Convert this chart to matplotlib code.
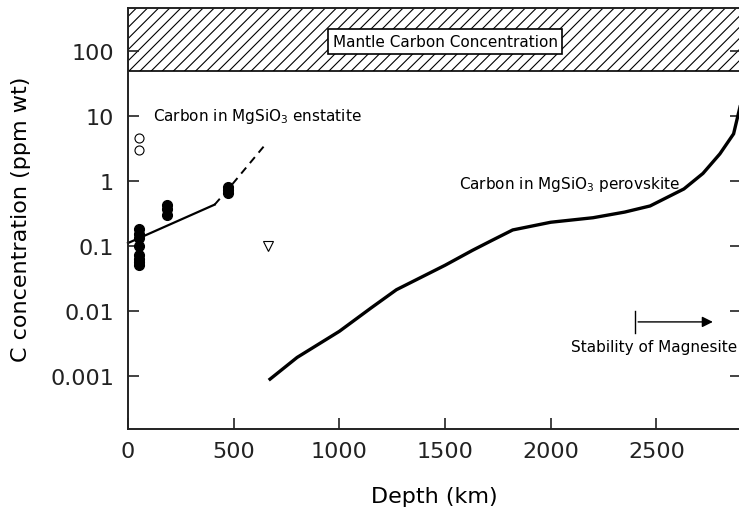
import matplotlib
matplotlib.use("Agg")
from matplotlib import pyplot as plt
from matplotlib.ticker import FixedLocator, FixedFormatter, NullLocator

# Enstatite experiments (depth km, C ppm wt)
depth_50 = [50, 50, 50, 50, 50, 50, 50, 50]
conc_50 = [0.18, 0.15, 0.13, 0.10, 0.072, 0.062, 0.056, 0.05]
depth_185 = [185, 185, 185]
conc_185 = [0.43, 0.37, 0.30]
depth_475 = [475, 475, 475]
conc_475 = [0.80, 0.72, 0.66]
open_depth = [50, 50]
open_conc = [4.5, 3.0]
tri_depth = [660]
tri_conc = [0.1]

# Enstatite trend lines
ens_solid_depth = [0, 410]
ens_solid_conc = [0.11, 0.43]
ens_dash_depth = [410, 475, 655]
ens_dash_conc = [0.43, 0.75, 3.8]

# Perovskite curve
pv_depth = [672, 800, 1000, 1150, 1270, 1500, 1630, 1720, 1820, 2000, 2200, 2350, 2470, 2630, 2720, 2800, 2865, 2900]
pv_conc = [0.00088, 0.0019, 0.0048, 0.011, 0.021, 0.05, 0.085, 0.12, 0.175, 0.23, 0.27, 0.33, 0.41, 0.75, 1.3, 2.6, 5.3, 16]

mantle_low = 50
yticks = [0.001, 0.01, 0.1, 1, 10, 100]
ytick_labels = ["0.001", "0.01", "0.1", "1", "10", "100"]
xticks = [0, 500, 1000, 1500, 2000, 2500]

plt.rcParams["font.family"] = "DejaVu Sans"
plt.rcParams["hatch.linewidth"] = 0.8

fig = plt.figure(figsize=(7.39, 5.10), dpi=100)
ax = fig.add_axes([128 / 739, 80 / 510, 613 / 739, 421 / 510])
ax.set_yscale("log")
ax.set_xlim(0, 2900)
ax.set_ylim(1.5e-4, 460)

# Mantle carbon band
ax.axhspan(mantle_low, 1000, facecolor="white", edgecolor="black", hatch="///", linewidth=1.2)
ax.text(1500, 140, "Mantle Carbon Concentration", ha="center", va="center", fontsize=11,
        bbox=dict(boxstyle="square,pad=0.3", facecolor="white", edgecolor="black", linewidth=1.2))

ax.plot(ens_solid_depth, ens_solid_conc, color="black", lw=1.6, clip_on=False)
ax.plot(ens_dash_depth, ens_dash_conc, color="black", lw=1.4, ls=(0, (4, 3)))
for d, c in [(depth_50, conc_50), (depth_185, conc_185), (depth_475, conc_475)]:
    ax.plot(d, c, "o", color="black", ms=7, ls="none")
ax.plot(open_depth, open_conc, "o", mfc="white", mec="black", mew=0.8, ms=6.5, ls="none")
ax.plot(tri_depth, tri_conc, "v", mfc="white", mec="black", mew=0.8, ms=7, ls="none")

ax.plot(pv_depth, pv_conc, color="black", lw=2.4, solid_joinstyle="miter")

ax.text(118, 10, "Carbon in MgSiO$_3$ enstatite", fontsize=11, va="center")
ax.text(1567, 0.9, "Carbon in MgSiO$_3$ perovskite", fontsize=11, va="center")

# Magnesite stability
ax.plot([2400, 2400], [0.0045, 0.0098], color="black", lw=1)
ax.annotate("", xy=(2780, 0.0067), xytext=(2400, 0.0067),
            arrowprops=dict(arrowstyle="-|>", color="black", lw=1, mutation_scale=16))
ax.text(2098, 0.0028, "Stability of Magnesite II", fontsize=11, va="center")

ax.yaxis.set_major_locator(FixedLocator(yticks))
ax.yaxis.set_major_formatter(FixedFormatter(ytick_labels))
ax.yaxis.set_minor_locator(NullLocator())
ax.set_xticks(xticks)
ax.tick_params(direction="in", length=8, width=1.2, labelsize=16, right=True, top=False, colors="#222222")
ax.tick_params(axis="y", pad=10)
ax.tick_params(axis="x", pad=9)
for s in ax.spines.values():
    s.set_linewidth(1.4)
    s.set_color("#222222")

ax.set_xlabel("Depth (km)", fontsize=16, labelpad=18)
ax.set_ylabel("C concentration (ppm wt)", fontsize=16, labelpad=14)

fig.savefig("out.png", dpi=100)
